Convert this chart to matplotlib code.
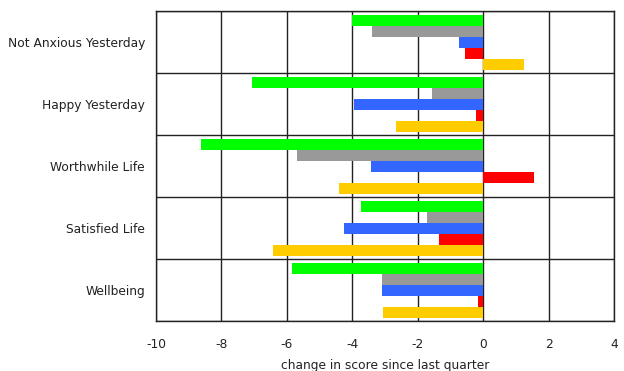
import matplotlib.pyplot as plt
import numpy as np

# categories, top to bottom
categories = ["Not Anxious Yesterday", "Happy Yesterday", "Worthwhile Life",
              "Satisfied Life", "Wellbeing"]

# series values (change in score), one per category
green_vals = [-4.0, -7.06, -8.62, -3.73, -5.84]
gray_vals = [-3.39, -1.56, -5.69, -1.71, -3.09]
blue_vals = [-0.73, -3.94, -3.42, -4.25, -3.09]
red_vals = [-0.55, -0.21, 1.56, -1.35, -0.15]
yellow_vals = [1.25, -2.66, -4.40, -6.42, -3.06]

series = [green_vals, gray_vals, blue_vals, red_vals, yellow_vals]
colors = ["#00FF00", "#999999", "#3366FF", "#FF0000", "#FFCC00"]

xticks = [-10, -8, -6, -4, -2, 0, 2, 4]

fig = plt.figure(figsize=(6.24, 3.71), dpi=100)
ax = fig.add_axes([0.25, 0.135, 0.734, 0.835])

y = np.arange(len(categories))
h = 0.178
for i, (vals, c) in enumerate(zip(series, colors)):
    ax.barh(y + (i - 2) * h + 0.01, vals, height=h, color=c, zorder=3)

ax.set_xlim(-10, 4)
ax.set_ylim(len(categories) - 0.5, -0.5)
ax.set_xticks(xticks)
ax.set_xticklabels([str(t) for t in xticks])
ax.set_yticks(y)
ax.set_yticklabels(categories)
ax.set_yticks(np.arange(len(categories) + 1) - 0.5, minor=True)

ax.grid(axis="x", which="major", color="#222222", lw=1, zorder=1)
ax.grid(axis="y", which="minor", color="#222222", lw=1, zorder=1)
ax.tick_params(axis="y", which="both", length=0, pad=8, labelsize=8.8, labelcolor="#222222")
ax.tick_params(axis="x", length=0, pad=12, labelsize=8.8, labelcolor="#222222")
for s in ax.spines.values():
    s.set_color("#222222")
    s.set_linewidth(1)

ax.set_xlabel("change in score since last quarter", fontsize=8.8, labelpad=6, color="#222222")

fig.savefig("out.png", dpi=100)
